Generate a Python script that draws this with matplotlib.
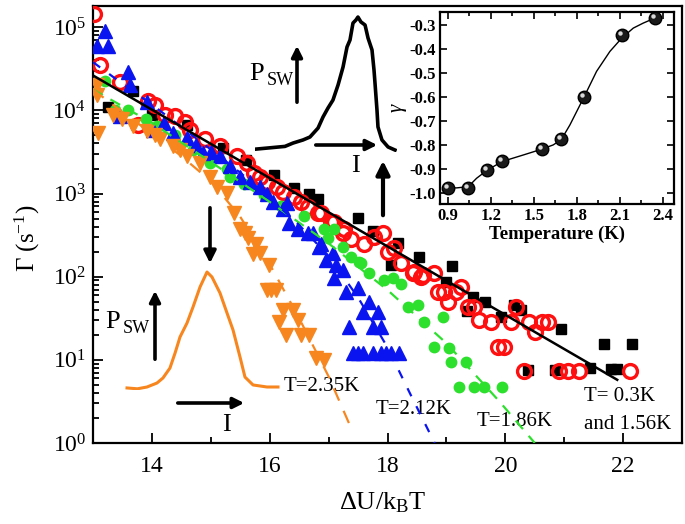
import numpy as np
import matplotlib
matplotlib.use('Agg')
import matplotlib.pyplot as plt
from matplotlib.ticker import MultipleLocator, FixedLocator, LogLocator, NullFormatter, LogFormatterMathtext
import matplotlib.transforms as mtransforms

plt.rcParams['font.family'] = ['Liberation Serif', 'DejaVu Serif']
plt.rcParams['mathtext.fontset'] = 'custom'
plt.rcParams['mathtext.rm'] = 'Liberation Serif'
plt.rcParams['mathtext.it'] = 'Liberation Serif:italic'
plt.rcParams['mathtext.bf'] = 'Liberation Serif:bold'

# ---------------- data (x = dU/kBT, values are log10 Gamma) ----------------
x_03 = [13.26, 13.68, 14.0, 14.6, 15.2, 15.6, 16.07, 16.41, 16.66, 16.82, 17.50, 17.75, 18.18, 18.06,
        18.54, 19.10, 19.00, 19.46, 19.35, 19.66, 20.14, 20.26, 19.93, 20.94, 21.67, 22.15,
        20.39, 20.84, 21.43, 21.79, 21.89]
lg_03 = [4.04, 4.23, 3.95, 3.83, 3.55, 3.40, 3.22, 3.07, 2.99, 2.93, 2.70, 2.55, 2.41, 2.14,
         2.24, 2.13, 1.94, 1.75, 1.59, 1.69, 1.66, 1.60, 1.51, 1.37, 1.19, 1.19,
         0.88, 0.88, 0.90, 0.89, 0.89]

x_156 = [13.02, 13.12, 13.46, 13.77, 13.94, 14.06, 14.23, 14.40, 14.57, 14.65, 14.91, 15.16, 15.45, 15.62,
         15.73, 15.84, 15.96, 16.13, 16.22, 16.41, 16.53, 16.65, 16.82, 16.87, 17.04, 17.09, 17.24, 17.26,
         17.38, 17.60, 17.77, 17.92, 18.01, 18.11, 18.23, 18.43, 18.45, 18.57, 18.60, 18.79, 18.86, 18.96,
         19.03, 19.17, 19.25, 19.37, 19.47, 19.56, 19.76, 19.88, 19.98, 20.10, 20.19, 20.41, 20.50,
         20.62, 20.73, 20.31, 20.92, 21.07, 21.25, 22.11]
lg_156 = [5.16, 4.54, 4.34, 3.82, 4.11, 4.07, 3.95, 3.93, 3.86, 3.77, 3.65, 3.57, 3.45, 3.37,
          3.25, 3.20, 3.14, 3.08, 3.02, 2.96, 2.90, 2.84, 2.77, 2.77, 2.66, 2.66, 2.53, 2.57,
          2.45, 2.39, 2.48, 2.53, 2.30, 2.35, 2.17, 2.05, 2.06, 2.00, 2.02, 2.05, 1.82, 1.81,
          1.70, 1.82, 1.88, 1.64, 1.64, 1.48, 1.46, 1.16, 1.16, 1.46, 1.64, 1.46, 1.34,
          1.46, 1.46, 0.86, 0.86, 0.86, 0.86, 0.86]

x_186 = [13.2, 13.37, 13.6, 13.9, 14.09, 14.4, 14.7, 14.99, 15.28, 15.33, 15.56, 15.9, 16.2, 16.58, 16.92,
         16.99, 17.09, 17.24, 17.38, 17.51, 17.55, 17.68, 17.94, 18.09, 18.23, 18.35, 18.52, 18.62,
         18.95, 18.79, 19.05, 19.08, 19.34, 19.22, 19.47, 19.64, 19.95]
lg_186 = [4.35, 4.01, 4.00, 3.90, 3.81, 3.70, 3.52, 3.37, 3.29, 3.20, 3.11, 2.98, 2.85, 2.73, 2.57,
          2.47, 2.57, 2.36, 2.24, 2.18, 2.17, 2.05, 1.96, 1.99, 1.91, 1.64, 1.66, 1.46,
          1.52, 1.16, 1.14, 0.98, 0.98, 0.67, 0.67, 0.67, 0.67]

x_212 = [13.2, 13.07, 13.26, 13.6, 13.63, 13.46, 13.92, 14.02, 14.2, 14.36, 14.6, 14.75, 14.87, 15.0,
         15.16, 15.33, 15.50, 15.67, 15.84, 15.95, 16.05, 16.30, 16.22, 16.32, 16.48, 16.65, 16.73,
         16.83, 16.87, 16.95, 17.07, 17.12, 17.09, 17.24, 17.29, 17.50, 17.68, 17.58, 17.84, 17.34,
         17.75, 17.89, 17.41, 17.58, 17.75, 17.89, 18.06, 18.20, 17.50, 17.98]
lg_212 = [4.95, 4.77, 4.77, 4.46, 4.31, 3.93, 4.10, 3.77, 3.85, 3.73, 3.67, 3.58, 3.49, 3.50,
          3.45, 3.33, 3.20, 3.14, 3.08, 3.00, 2.90, 2.89, 2.81, 2.65, 2.57, 2.53, 2.53,
          2.36, 2.39, 2.20, 2.29, 2.14, 1.99, 2.08, 1.82, 1.87, 1.69, 1.57, 1.57, 1.39,
          1.39, 1.39, 1.08, 1.08, 1.08, 1.08, 1.08, 1.08, 1.08, 1.08]

x_235 = [13.07, 13.07, 13.09, 13.34, 13.5, 13.68, 13.92, 14.05, 14.14, 14.36, 14.47, 14.60, 14.82, 14.99,
         15.11, 15.28, 15.39, 15.50, 15.58, 15.64, 15.76, 15.71, 15.84, 15.98, 15.96, 16.10, 16.03,
         16.22, 16.39, 16.15, 16.48, 16.27, 16.53, 16.66, 16.78, 16.92]
lg_235 = [4.19, 4.31, 3.73, 3.95, 3.90, 3.81, 3.75, 3.70, 3.65, 3.57, 3.52, 3.45, 3.37, 3.20,
          3.08, 3.01, 2.77, 2.57, 2.53, 2.47, 2.39, 2.27, 2.29, 2.14, 1.84, 1.84, 1.84,
          1.60, 1.60, 1.46, 1.48, 1.30, 1.30, 1.30, 1.02, 1.00]

# fit curves (log10 Gamma)
fit03_x = [13.0, 21.9]
fit03_lg = [4.42, 0.76]
fit186_x = [13.0, 14.0, 15.0, 16.0, 17.0, 18.0, 19.0, 19.9, 20.5]
fit186_lg = [4.25, 3.85, 3.38, 2.90, 2.40, 1.84, 1.20, 0.50, 0.0]
fit212_x = [13.0, 13.5, 14.0, 14.5, 15.0, 15.5, 16.0, 16.5, 17.0, 17.5, 18.0, 18.4, 18.8]
fit212_lg = [4.58, 4.32, 4.07, 3.80, 3.53, 3.25, 2.95, 2.62, 2.25, 1.75, 1.15, 0.57, 0.0]
fit235_x = [13.0, 13.5, 14.0, 14.5, 15.0, 15.5, 16.0, 16.5, 17.0, 17.4]
fit235_lg = [4.25, 3.98, 3.72, 3.45, 3.15, 2.72, 2.15, 1.50, 0.80, 0.15]

# inset: gamma vs temperature
T_pts = [0.90, 1.042, 1.172, 1.279, 1.554, 1.691, 1.851, 2.112, 2.345]
gamma_pts = [-0.978, -0.978, -0.905, -0.869, -0.818, -0.774, -0.599, -0.343, -0.272]
T_curve = [0.90, 0.96, 1.042, 1.10, 1.172, 1.279, 1.426, 1.554, 1.635, 1.691, 1.751, 1.851,
           1.937, 2.030, 2.112, 2.193, 2.263, 2.345]
gamma_curve = [-0.978, -0.979, -0.974, -0.939, -0.906, -0.869, -0.842, -0.818, -0.800, -0.778,
               -0.717, -0.599, -0.494, -0.411, -0.356, -0.314, -0.293, -0.272]

# switching histograms (normalized I, P)
hist1_I = [0.0, 0.106, 0.211, 0.268, 0.338, 0.387, 0.444, 0.479, 0.514, 0.549, 0.585, 0.62, 0.648,
           0.669, 0.69, 0.711, 0.725, 0.746, 0.775, 0.796, 0.824, 0.838, 0.845, 0.859, 0.866, 0.894,
           0.937, 0.986]
hist1_P = [0.02, 0.03, 0.04, 0.064, 0.086, 0.107, 0.171, 0.25, 0.314, 0.371, 0.479, 0.607, 0.75,
           0.80, 0.921, 0.943, 0.964, 0.929, 0.907, 0.814, 0.729, 0.586, 0.493, 0.30, 0.179, 0.086,
           0.036, 0.014]
hist2_I = [0.013, 0.08, 0.142, 0.206, 0.245, 0.29, 0.323, 0.355, 0.40, 0.439, 0.484, 0.529, 0.561,
           0.613, 0.658, 0.697, 0.742, 0.774, 0.826, 0.916, 0.987]
hist2_P = [0.017, 0.01, 0.025, 0.058, 0.10, 0.183, 0.308, 0.442, 0.558, 0.692, 0.858, 0.983, 0.942,
           0.808, 0.642, 0.50, 0.275, 0.108, 0.042, 0.025, 0.025]

# ---------------- figure ----------------
W, H = 685, 524
fig = plt.figure(figsize=(W / 100, H / 100), dpi=100)


def fx(px):
    return px / W


def fy(py):
    return 1 - py / H


ax = fig.add_axes([fx(93), fy(443), fx(682) - fx(93), fy(6) - fy(443)])
p = lambda a: 10 ** np.asarray(a)

ax.plot(x_03, p(lg_03), ls='none', marker='s', ms=6.5, color='black', zorder=2)
ax.plot(x_156, p(lg_156), ls='none', marker='o', ms=10, mfc='none', mec='#ff1010', mew=2.4, zorder=3)
ax.plot(x_186, p(lg_186), ls='none', marker='o', ms=7.5, color='#2de02d', zorder=4)
ax.plot(x_212, p(lg_212), ls='none', marker='^', ms=10, color='#0a14f0', zorder=5)
ax.plot(x_235, p(lg_235), ls='none', marker='v', ms=10, color='#f7861f', zorder=6)

ax.plot(fit186_x, p(fit186_lg), ls=(0, (5, 4)), lw=1.6, color='#2de02d', zorder=7)
ax.plot(fit212_x, p(fit212_lg), ls=(0, (4, 5)), lw=1.6, color='#0a14f0', zorder=7)
ax.plot(fit235_x, p(fit235_lg), ls=(0, (6, 5)), lw=1.6, color='#f7861f', zorder=7)
ax.plot(fit03_x, p(fit03_lg), ls='-', lw=1.8, color='black', zorder=8)

ax.set_yscale('log')
ax.set_xlim(13, 23)
ax.set_ylim(1, 1.8e5)
ax.xaxis.set_major_locator(FixedLocator([14, 16, 18, 20, 22]))
ax.xaxis.set_minor_locator(MultipleLocator(1))
ax.yaxis.set_major_locator(LogLocator(base=10, numticks=10))
ax.yaxis.set_minor_locator(LogLocator(base=10, subs=np.arange(2, 10), numticks=20))
ax.yaxis.set_minor_formatter(NullFormatter())
ax.yaxis.set_major_formatter(LogFormatterMathtext())
ax.tick_params(which='both', direction='in', top=False, right=False, width=1.3)
ax.tick_params(which='major', length=7, labelsize=17)
ax.tick_params(which='minor', length=4)
ax.tick_params(axis='x', pad=9)
ax.tick_params(axis='y', pad=5)
for s in ax.spines.values():
    s.set_linewidth(1.6)

fig.text(fx(27), fy(238), r'$\Gamma$ (s$^{-1}$)', rotation=90, ha='center', va='center', fontsize=18)
fig.text(fx(383), fy(503), r'$\Delta$U/k$_\mathrm{B}$T', ha='center', va='center', fontsize=19)

# temperature labels
ax.text(16.24, 10 ** 0.675, 'T=2.35K', fontsize=15, va='center', ha='left')
ax.text(17.80, 10 ** 0.40, 'T=2.12K', fontsize=15, va='center', ha='left')
ax.text(19.51, 10 ** 0.253, 'T=1.86K', fontsize=15, va='center', ha='left')
ax.text(21.33, 10 ** 0.554, 'T= 0.3K', fontsize=15, va='center', ha='left')
ax.text(21.33, 10 ** 0.217, 'and 1.56K', fontsize=15, va='center', ha='left')

# histogram insets
h1 = fig.add_axes([fx(255), fy(152), fx(397) - fx(255), fy(12) - fy(152)])
h1.plot(hist1_I, hist1_P, color='black', lw=2.6)
h1.set_xlim(0, 1)
h1.set_ylim(0, 1)
h1.axis('off')

h2 = fig.add_axes([fx(125), fy(390), fx(280) - fx(125), fy(270) - fy(390)])
h2.plot(hist2_I, hist2_P, color='#f7861f', lw=2.2)
h2.set_xlim(0, 1)
h2.set_ylim(0, 1)
h2.axis('off')


def arrow(x0, y0, x1, y1, lw=2.6, ms=16):
    fig.add_artist(matplotlib.patches.FancyArrowPatch(
        (fx(x0), fy(y0)), (fx(x1), fy(y1)), transform=fig.transFigure,
        arrowstyle='-|>', mutation_scale=ms, lw=lw, color='black', zorder=20))


arrow(297, 105, 297, 43)
arrow(313, 145, 380, 145)
arrow(383, 218, 383, 158, lw=3.0, ms=20)
arrow(210, 205, 210, 266, lw=2.6, ms=18)
arrow(155, 362, 155, 288)
arrow(175, 403, 247, 403)

fig.text(fx(249), fy(80), 'P', fontsize=19, va='baseline', ha='left')
fig.text(fx(267), fy(85), 'SW', fontsize=13, va='baseline', ha='left')
fig.text(fx(355), fy(166), 'I', fontsize=19, va='center', ha='center')
fig.text(fx(105), fy(328), 'P', fontsize=19, va='baseline', ha='left')
fig.text(fx(123), fy(333), 'SW', fontsize=13, va='baseline', ha='left')
fig.text(fx(226), fy(425), 'I', fontsize=19, va='center', ha='center')

# gamma vs T inset
ins = fig.add_axes([fx(440), fy(204), fx(674) - fx(440), fy(12) - fy(204)])
ins.plot(T_curve, gamma_curve, color='black', lw=1.0, zorder=2)
ins.plot(T_pts, gamma_pts, ls='none', marker='o', ms=9, mfc='#1a1a1a', mec='black', mew=1.0, zorder=3)
hl = mtransforms.offset_copy(ins.transData, fig=fig, x=-1.5, y=1.5, units='points')
ins.plot(T_pts, gamma_pts, ls='none', marker='o', ms=3.2, mfc='#d8d8d8', mec='none', transform=hl, zorder=4)
ins.set_xlim(0.845, 2.477)
ins.set_ylim(-1.046, -0.247)
ins.xaxis.set_major_locator(FixedLocator([0.9, 1.2, 1.5, 1.8, 2.1, 2.4]))
ins.xaxis.set_minor_locator(FixedLocator([1.05, 1.35, 1.65, 1.95, 2.25]))
ins.yaxis.set_major_locator(FixedLocator([-1.0, -0.9, -0.8, -0.7, -0.6, -0.5, -0.4, -0.3]))
ins.xaxis.set_major_formatter(matplotlib.ticker.FuncFormatter(lambda v, _: f'{v:.1f}'))
ins.yaxis.set_major_formatter(matplotlib.ticker.FuncFormatter(lambda v, _: f'{v:.1f}'))
ins.tick_params(which='both', direction='in', top=True, right=True, width=1.2)
ins.tick_params(which='major', length=5, labelsize=12, pad=3)
ins.tick_params(which='minor', length=3)
for lab in ins.get_xticklabels() + ins.get_yticklabels():
    lab.set_fontweight('bold')
for s in ins.spines.values():
    s.set_linewidth(1.6)
ins.set_xlabel('Temperature (K)', fontsize=13.5, fontweight='bold', labelpad=1)
ins.set_ylabel(r'$\gamma$', fontsize=15, labelpad=0)

fig.savefig('out.png', dpi=100)
